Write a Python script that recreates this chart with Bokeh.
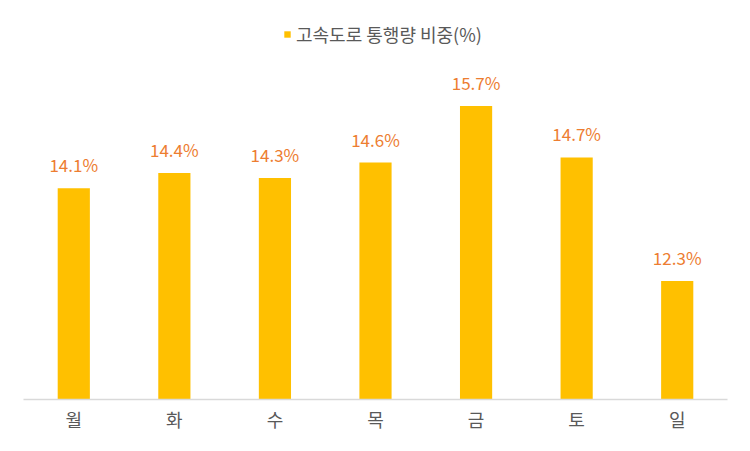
from bokeh.plotting import figure
from bokeh.models import ColumnDataSource, LabelSet, Legend, LegendItem, Range1d
from bokeh.core.properties import value
from bokeh.embed import file_html
from bokeh.resources import INLINE

days = ["월", "화", "수", "목", "금", "토", "일"]
shares = [14.1, 14.4, 14.3, 14.6, 15.7, 14.7, 12.3]
share_labels = ["14.1%", "14.4%", "14.3%", "14.6%", "15.7%", "14.7%", "12.3%"]
series_name = "고속도로 통행량 비중(%)"

src = ColumnDataSource(dict(day=days, share=shares, lab=share_labels))

Y0 = 10.0
p = figure(width=734, height=435, x_range=days, y_range=Range1d(Y0, 17.553),
           output_backend="svg", toolbar_location=None,
           min_border_left=23, min_border_right=7, min_border_top=10, min_border_bottom=36)
p.outline_line_color = None
p.xgrid.grid_line_color = None
p.ygrid.grid_line_color = None
p.yaxis.visible = False
p.background_fill_color = "white"
p.border_fill_color = "white"

r = p.vbar(x="day", top="share", bottom=Y0, width=0.32, source=src,
           fill_color="#FFC000", line_color=None)

labels = LabelSet(x="day", y="share", text="lab", source=src, text_align="center",
                  text_baseline="alphabetic", y_offset=16, text_color="#ED7D31",
                  text_font=value("Noto Sans CJK KR"), text_font_size="17px")
p.add_layout(labels)

ax = p.xaxis[0]
ax.axis_line_color = "#D9D9D9"
ax.axis_line_width = 1.5
ax.major_tick_line_color = None
ax.minor_tick_line_color = None
ax.major_label_text_font = "Noto Sans CJK KR"
ax.major_label_text_font_size = "18px"
ax.major_label_text_color = "#595959"
ax.major_label_standoff = 0

legend = Legend(items=[LegendItem(label=series_name, renderers=[r])],
                location=(260, 352), orientation="horizontal",
                glyph_width=8, glyph_height=8, label_standoff=5,
                padding=0, margin=0, border_line_color=None,
                background_fill_alpha=0,
                label_text_font="Noto Sans CJK KR", label_text_font_size="18px",
                label_text_color="#595959")
p.add_layout(legend, "center")

open("out.html", "w").write(file_html(p, INLINE))
